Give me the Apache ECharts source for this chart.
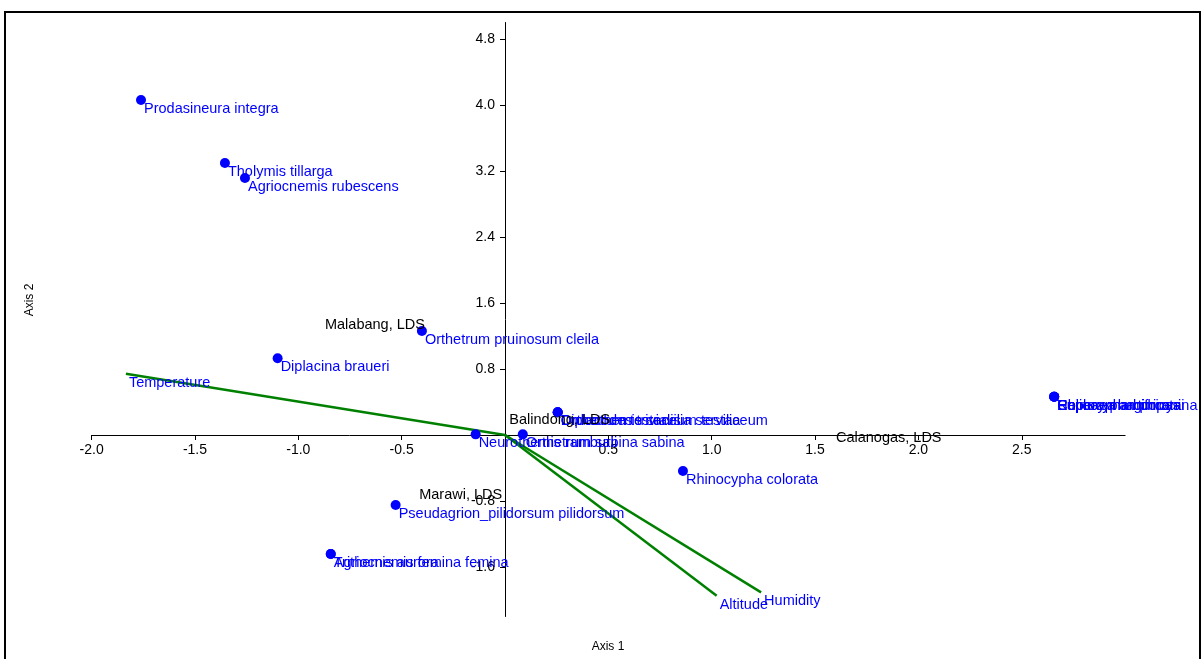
<!DOCTYPE html>
<html><head><meta charset="utf-8">
<script src="https://cdn.jsdelivr.net/npm/echarts@6/dist/echarts.min.js"></script>
<style>html,body{margin:0;padding:0;background:#fff}#c{width:1203px;height:659px}</style>
</head><body><div id="c"></div>
<script>
// Species scores (Axis 1, Axis 2)
const speciesNames = [
  "Prodasineura integra", "Tholymis tillarga", "Agriocnemis rubescens",
  "Orthetrum pruinosum cleila", "Diplacina braueri", "Neurothemis ramburii",
  "Orthetrum sabina sabina", "Diplacodes trivialis", "Crocothemis servilia servilia",
  "Orthetrum testaceum testaceum", "Rhinocypha colorata",
  "Pseudagrion_pilidorsum pilidorsum", "Agriocnemis femina femina", "Trithemis aurora",
  "Rhinocypha turconii", "Euphaea amphicyana", "Heliocypha biforata", "Copera marginipes"
];
const speciesX = [-1.761, -1.355, -1.258, -0.402, -1.100, -0.142, 0.086, 0.255, 0.255, 0.255,
  0.861, -0.529, -0.843, -0.843, 2.657, 2.657, 2.657, 2.657];
const speciesY = [4.061, 3.297, 3.115, 1.261, 0.930, 0.008, 0.008, 0.275, 0.275, 0.275,
  -0.436, -0.848, -1.442, -1.442, 0.464, 0.464, 0.464, 0.464];

// Site labels
const siteNames = ["Malabang, LDS", "Balindong, LDS", "Calanogas, LDS", "Marawi, LDS"];
const siteX = [-0.871, 0.021, 1.601, -0.415];
const siteY = [1.333, 0.182, -0.033, -0.727];

// Environmental vectors
const vectorNames = ["Temperature", "Altitude", "Humidity"];
const vectorX = [-1.834, 1.024, 1.239];
const vectorY = [0.743, -1.948, -1.907];

// Tick labels
const xTicks = [-2.0, -1.5, -1.0, -0.5, 0.5, 1.0, 1.5, 2.0, 2.5];
const yTicks = [-1.6, -0.8, 0.8, 1.6, 2.4, 3.2, 4.0, 4.8];

const FONT = 'Liberation Sans, Arial, sans-serif';
const BLUE = '#0000ff';
const GREEN = '#008000';

const X_MIN = -2, X_MAX = 3, Y_MIN = -2.2, Y_MAX = 5.0;
const G_LEFT = 91.6, G_TOP = 22.5, G_W = 1033.5, G_H = 594;
// shift axes so they cross at the origin
const yAxisShift = -(0 - X_MIN) / (X_MAX - X_MIN) * G_W;
const xAxisShift = -(0 - Y_MIN) / (Y_MAX - Y_MIN) * G_H;

const chart = echarts.init(document.getElementById('c'), null, {renderer: 'canvas'});

const vectorSeries = vectorNames.map((n, i) => ({
  type: 'line', name: n, data: [[0, 0], [vectorX[i], vectorY[i]]],
  showSymbol: false, symbol: 'none', silent: true, z: 2,
  lineStyle: {color: GREEN, width: 2.5, opacity: 1}
}));

const ptLabel = (color) => ({
  show: true, position: [8, 14], align: 'left', verticalAlign: 'middle',
  fontSize: 14.5, fontFamily: FONT, color: color, opacity: 1, formatter: p => p.name
});

const option = {
  animation: false,
  textStyle: {fontFamily: FONT},
  grid: {left: G_LEFT, top: G_TOP, width: G_W, height: G_H, containLabel: false, outerBoundsMode: 'none'},
  xAxis: {
    type: 'value', min: X_MIN, max: X_MAX, position: 'bottom', offset: xAxisShift,
    splitLine: {show: false},
    axisLine: {show: true, onZero: false, lineStyle: {color: '#000', width: 1}},
    axisTick: {show: true, customValues: xTicks, length: 5, lineStyle: {color: '#000'}},
    axisLabel: {show: true, customValues: xTicks, formatter: v => Number(v).toFixed(1), color: '#000', fontSize: 14, margin: 8, fontFamily: FONT}
  },
  yAxis: {
    type: 'value', min: Y_MIN, max: Y_MAX, position: 'left', offset: yAxisShift,
    splitLine: {show: false},
    axisLine: {show: true, onZero: false, lineStyle: {color: '#000', width: 1}},
    axisTick: {show: true, customValues: yTicks, length: 5, lineStyle: {color: '#000'}},
    axisLabel: {show: true, customValues: yTicks, formatter: v => Number(v).toFixed(1), color: '#000', fontSize: 14, margin: 10, fontFamily: FONT}
  },
  graphic: [
    {type: 'rect', silent: true, shape: {x: 5, y: 12, width: 1195, height: 660}, style: {fill: 'none', stroke: '#000', lineWidth: 2}},
    {type: 'text', x: 608, y: 647, style: {text: 'Axis 1', fontSize: 12, fontFamily: FONT, fill: '#000', align: 'center', verticalAlign: 'middle'}},
    {type: 'text', x: 30, y: 300, rotation: Math.PI / 2, style: {text: 'Axis 2', fontSize: 12, fontFamily: FONT, fill: '#000', align: 'center', verticalAlign: 'middle'}}
  ],
  series: [
    ...vectorSeries,
    {
      type: 'scatter', name: 'vectorLabels', z: 3, symbolSize: 10, silent: true,
      itemStyle: {color: 'rgba(0,0,0,0)'},
      data: vectorNames.map((n, i) => ({name: n, value: [vectorX[i], vectorY[i]]})),
      label: ptLabel(BLUE)
    },
    {
      type: 'scatter', name: 'species', z: 4, symbolSize: 10, silent: true,
      itemStyle: {color: BLUE, opacity: 1},
      data: speciesNames.map((n, i) => ({name: n, value: [speciesX[i], speciesY[i]]})),
      label: ptLabel(BLUE)
    },
    {
      type: 'scatter', name: 'sites', z: 5, symbolSize: 10, silent: true,
      itemStyle: {color: 'rgba(0,0,0,0)'},
      data: siteNames.map((n, i) => ({name: n, value: [siteX[i], siteY[i]]})),
      label: {show: true, position: [5, 5], align: 'left', verticalAlign: 'middle', fontSize: 14.5, fontFamily: FONT, color: '#000', opacity: 1, formatter: p => p.name}
    }
  ]
};
chart.setOption(option);
</script>
</body></html>
